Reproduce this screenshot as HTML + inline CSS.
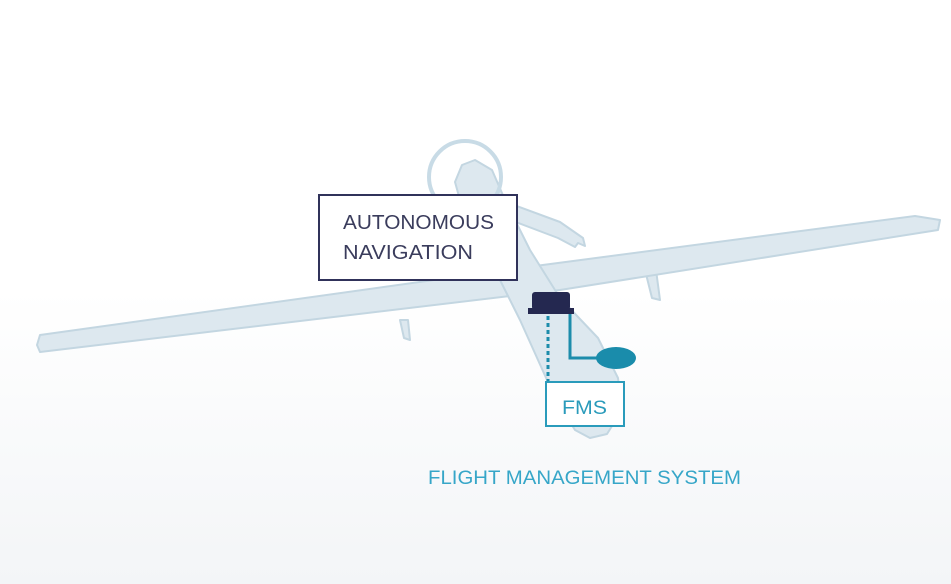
<!DOCTYPE html>
<html><head><style>
html,body{margin:0;padding:0}
body{width:951px;height:584px;overflow:hidden;background:linear-gradient(#fff 0,#fff 290px,#f3f5f7 584px)}
svg{display:block}
text{font-family:"Liberation Sans",sans-serif}
</style></head><body>
<svg width="951" height="584" viewBox="0 0 951 584" xmlns="http://www.w3.org/2000/svg">
<g fill="#dde8ef" stroke="#c3d6e1" stroke-width="2" stroke-linejoin="round">
<path d="M495 198 L560 222 L583 238 L585 246 L578 243 L575 247 L558 238 L500 216 Z"/>
<path d="M400 320 L404 338 L410 340 L408 320 Z"/>
<path d="M645 270 L652 298 L660 300 L656 270 Z"/>
<path d="M40 335 L520 268 L915 216 L940 220 L938 230 L560 290 L40 352 L37 345 Z"/>
<path d="M462 165 L475 160 L492 170 L505 200 L530 250 L560 298 L598 338 L618 378 L622 410 L607 434 L590 438 L575 430 L556 400 L538 360 L520 320 L500 280 L480 232 L460 200 L455 182 Z"/>
</g>
<circle cx="465" cy="177" r="36" fill="none" stroke="#c8dbe6" stroke-width="4"/>
<rect x="319" y="195" width="198" height="85" fill="#fff" stroke="#30325a" stroke-width="2"/>
<text x="343" y="229" font-size="20" fill="#3a3c5c" textLength="151" lengthAdjust="spacingAndGlyphs">AUTONOMOUS</text>
<text x="343" y="259" font-size="20" fill="#3a3c5c" textLength="130" lengthAdjust="spacingAndGlyphs">NAVIGATION</text>
<rect x="532" y="292" width="38" height="18" rx="3" fill="#242850"/>
<rect x="528" y="308" width="46" height="6" fill="#242850"/>
<line x1="548" y1="316" x2="548" y2="382" stroke="#1c8cab" stroke-width="3" stroke-dasharray="4,3"/>
<polyline points="570,314 570,358 600,358" fill="none" stroke="#1c8cab" stroke-width="3"/>
<ellipse cx="616" cy="358" rx="20" ry="11" fill="#1a8cab"/>
<rect x="546" y="382" width="78" height="44" fill="#fff" stroke="#2a9bbb" stroke-width="2"/>
<text x="562" y="414" font-size="19" fill="#2a9bbb" textLength="45" lengthAdjust="spacingAndGlyphs">FMS</text>
<text x="428" y="484" font-size="19" fill="#36a6c8" textLength="313" lengthAdjust="spacingAndGlyphs">FLIGHT MANAGEMENT SYSTEM</text>
</svg>
</body></html>
